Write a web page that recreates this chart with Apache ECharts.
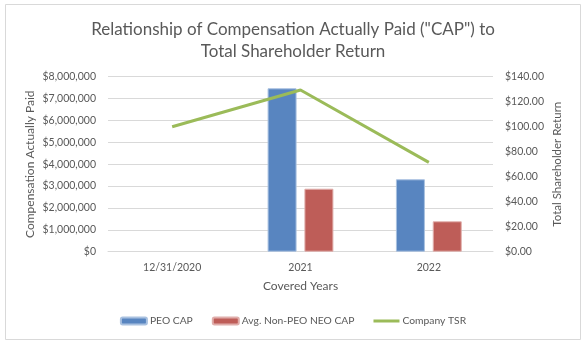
<!DOCTYPE html>
<html>
<head>
<meta charset="utf-8">
<script src="https://cdn.jsdelivr.net/npm/echarts@6/dist/echarts.min.js"></script>
<style>
  html, body { margin: 0; padding: 0; background: #ffffff; }
  #chart { width: 586px; height: 346px; }
</style>
</head>
<body>
<div id="chart"></div>
<script>
// Covered years and compensation / return figures
var years = ['12/31/2020', '2021', '2022'];
var peoCap = [null, 7470000, 3310000];
var neoCap = [null, 2880000, 1390000];
var companyTsr = [100, 129.4, 71.5];

var leftTicks = { min: 0, max: 8000000, interval: 1000000 };
var rightTicks = { min: 0, max: 140, interval: 20 };

var FONT = 'Lato, "Open Sans", sans-serif';
var GREY = '#595959';

function money(v) {
  return '$' + Math.round(v).toString().replace(/\B(?=(\d{3})+(?!\d))/g, ',');
}

var chart = echarts.init(document.getElementById('chart'), null, { renderer: 'canvas' });
chart.setOption({
  backgroundColor: '#ffffff',
  animation: false,
  textStyle: { fontFamily: FONT, color: GREY },
  graphic: [{
    type: 'rect',
    shape: { x: 5.5, y: 4.5, width: 575, height: 335 },
    style: { fill: 'none', stroke: '#d9d9d9', lineWidth: 1 },
    silent: true
  }],
  title: {
    text: 'Relationship of Compensation Actually Paid ("CAP") to\nTotal Shareholder Return',
    left: 'center',
    top: 14,
    textStyle: { fontFamily: FONT, fontSize: 17, fontWeight: 'normal', color: GREY, lineHeight: 22 }
  },
  legend: {
    bottom: 15,
    left: 'center',
    itemWidth: 26,
    itemHeight: 7,
    itemGap: 19,
    textStyle: { fontFamily: FONT, fontSize: 10.3, color: GREY, padding: [0, 0, 0, -2] },
    data: [
      'PEO CAP',
      'Avg. Non-PEO NEO CAP',
      { name: 'Company TSR', icon: 'path://M0,0H26V3H0Z' }
    ]
  },
  grid: { left: 108, right: 93, top: 76.7, bottom: 94.3, containLabel: false },
  xAxis: {
    type: 'category',
    data: years,
    name: 'Covered Years',
    nameLocation: 'middle',
    nameGap: 28,
    nameTextStyle: { fontFamily: FONT, fontSize: 12, color: GREY },
    axisLine: { lineStyle: { color: '#d9d9d9' } },
    axisTick: { show: false },
    axisLabel: { fontFamily: FONT, fontSize: 10.5, color: GREY, margin: 10 }
  },
  yAxis: [{
    type: 'value',
    min: leftTicks.min, max: leftTicks.max, interval: leftTicks.interval,
    name: 'Compensation Actually Paid',
    nameLocation: 'middle',
    nameGap: 72,
    nameMoveOverlap: false,
    nameTextStyle: { fontFamily: FONT, fontSize: 12, color: GREY },
    axisLine: { show: false },
    axisTick: { show: false },
    splitLine: { lineStyle: { color: '#d9d9d9' } },
    axisLabel: { fontFamily: FONT, fontSize: 10.5, color: GREY, margin: 12, formatter: money }
  }, {
    type: 'value',
    min: rightTicks.min, max: rightTicks.max, interval: rightTicks.interval,
    name: 'Total Shareholder Return',
    nameLocation: 'middle',
    nameGap: 58,
    nameMoveOverlap: false,
    nameTextStyle: { fontFamily: FONT, fontSize: 11.5, color: GREY },
    axisLine: { show: false },
    axisTick: { show: false },
    splitLine: { show: false },
    axisLabel: { fontFamily: FONT, fontSize: 10.5, color: GREY, margin: 12,
      formatter: function (v) { return '$' + v.toFixed(2); } }
  }],
  series: [{
    name: 'PEO CAP',
    type: 'bar',
    yAxisIndex: 0,
    data: peoCap,
    barWidth: 29,
    barGap: '27%',
    itemStyle: { color: '#5885C0', borderColor: '#a9c1e0', borderWidth: 1 }
  }, {
    name: 'Avg. Non-PEO NEO CAP',
    type: 'bar',
    yAxisIndex: 0,
    data: neoCap,
    barWidth: 29,
    barGap: '27%',
    itemStyle: { color: '#BE5D58', borderColor: '#e0aeab', borderWidth: 1 }
  }, {
    name: 'Company TSR',
    type: 'line',
    yAxisIndex: 1,
    data: companyTsr,
    symbol: 'none',
    lineStyle: { color: '#9BBB59', width: 3 },
    itemStyle: { color: '#9BBB59' }
  }]
});
</script>
</body>
</html>
